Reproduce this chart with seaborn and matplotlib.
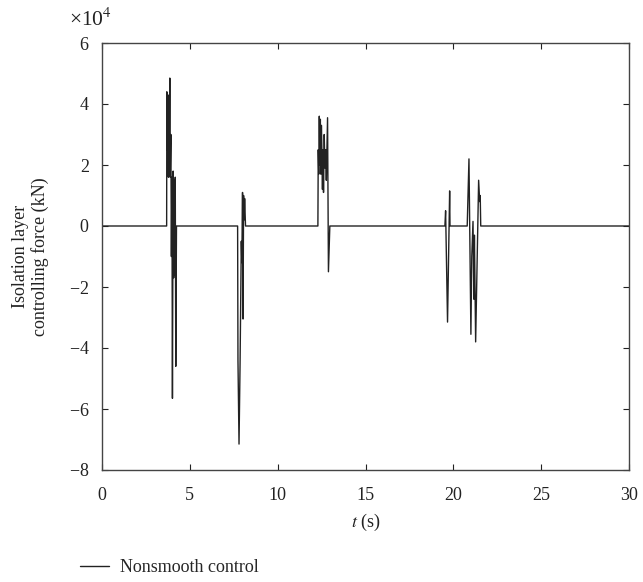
import matplotlib
matplotlib.use("Agg")
import matplotlib.pyplot as plt
import matplotlib.ticker as mticker
from matplotlib.lines import Line2D
import seaborn as sns
import pandas as pd

# time (s) and isolation-layer controlling force (kN)
t_s = [0.0, 3.68, 3.69, 3.72, 3.75, 3.78, 3.80, 3.83, 3.86, 3.88, 3.92, 3.95, 3.98,
       4.01, 4.05, 4.08, 4.11, 4.14, 4.17, 4.20, 4.24,
       7.72, 7.74, 7.80, 7.86, 7.93, 7.96, 8.00, 8.03, 8.06, 8.09, 8.12, 8.17,
       12.29, 12.31, 12.34, 12.37, 12.40, 12.43, 12.46, 12.49, 12.52, 12.55, 12.58,
       12.61, 12.65, 12.69, 12.73, 12.77, 12.84, 12.89, 12.97,
       19.52, 19.56, 19.67, 19.79, 19.81,
       20.79, 20.89, 21.00, 21.05, 21.12, 21.17, 21.20, 21.27, 21.44, 21.50, 21.53, 21.56,
       30.0]
force_kN = [0, 0, 44000, 25000, 43000, 16000, 41000, 20000, 48500, 16000, 30000, -10000, 16000,
            -56500, 18000, -17000, 15000, -16000, 16000, -46000, 0,
            0, -44000, -71500, -45000, -5000, -12000, 11000, -30500, 10000, 2000, 9000, 0,
            0, 25000, 17000, 36000, 20000, 35000, 17000, 33000, 24000, 12000, 25000,
            11000, 30000, 19000, 25000, 15000, 35500, -15000, 0,
            0, 5000, -31500, 11500, 0,
            0, 22000, -35500, -10000, 1500, -24000, -3000, -38000, 15000, 8000, 10000, 0,
            0]
x_ticks = [0, 5, 10, 15, 20, 25, 30]
y_ticks = [-80000, -60000, -40000, -20000, 0, 20000, 40000, 60000]

df = pd.DataFrame({"t": t_s, "force": force_kN})

sns.set_theme(style="white")
plt.rcParams["font.family"] = ["Liberation Serif", "DejaVu Serif"]
plt.rcParams["mathtext.fontset"] = "stix"
plt.rcParams["axes.unicode_minus"] = True

fig = plt.figure(figsize=(6.43, 5.82), dpi=100)
ax = fig.add_axes([102 / 643, 1 - 470 / 582, (629 - 102) / 643, (470 - 43) / 582])

sns.lineplot(data=df, x="t", y="force", ax=ax, color="#222222", linewidth=1.0,
             legend=False, estimator=None, sort=False)

ax.set_xlim(0, 30)
ax.set_ylim(-80000, 60000)
ax.set_xticks(x_ticks)
ax.set_yticks(y_ticks)
fmt = mticker.ScalarFormatter(useMathText=True)
fmt.set_powerlimits((0, 0))
ax.yaxis.set_major_formatter(fmt)
ax.yaxis.get_offset_text().set_visible(False)
fig.text(69 / 643, 1 - 26 / 582, "×10$^{4}$", fontsize=15.5, color="#222222",
         ha="left", va="baseline")

ax.tick_params(direction="in", length=4, width=0.8, labelsize=13, colors="#222222",
               top=True, right=True, bottom=True, left=True)
ax.tick_params(axis="x", pad=12)
ax.tick_params(axis="y", pad=9)
for sp in ax.spines.values():
    sp.set_color("#444444")
    sp.set_linewidth(1.0)

ax.set_xlabel("$t$ (s)", fontsize=13, color="#222222", labelpad=6)
ax.set_ylabel("Isolation layer\ncontrolling force (kN)", fontsize=13, color="#222222",
              labelpad=14, linespacing=1.15)

h = [Line2D([0], [0], color="#222222", linewidth=1.0)]
fig.legend(h, ["Nonsmooth control"], loc="center left",
           bbox_to_anchor=(64 / 643, 1 - 568 / 582), frameon=False, fontsize=13,
           handlelength=1.6, handletextpad=0.6)

fig.savefig("out.png", dpi=100)
